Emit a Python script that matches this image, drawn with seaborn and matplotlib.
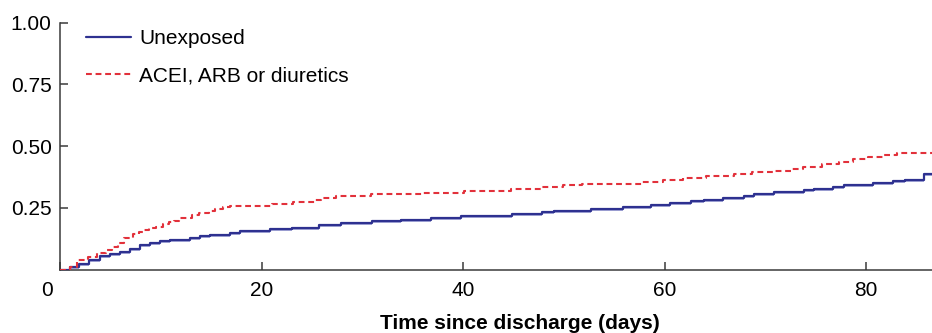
import numpy as np
import pandas as pd
import matplotlib
matplotlib.use("Agg")
import matplotlib.pyplot as plt
import matplotlib.transforms as mtransforms
import seaborn as sns

# ---- data ----
unexp_time = [0, 1.0, 1.9, 2.9, 4.0, 5.0, 6.0, 6.95, 7.9, 8.9, 9.9, 10.9, 12.9, 13.9,
              14.9, 16.9, 17.9, 20.8, 23.0, 25.7, 27.9, 31.0, 33.8, 36.8, 39.8, 44.9,
              47.8, 49.0, 52.7, 55.9, 58.7, 60.5, 62.6, 63.9, 65.8, 67.9, 68.9, 70.9,
              73.8, 74.8, 76.7, 77.8, 80.7, 82.7, 83.9, 85.8, 88.0]
unexp_val = [0, 0.010, 0.024, 0.040, 0.054, 0.065, 0.073, 0.084, 0.099, 0.107, 0.115,
             0.120, 0.128, 0.136, 0.142, 0.150, 0.158, 0.164, 0.170, 0.181, 0.188,
             0.196, 0.201, 0.209, 0.216, 0.224, 0.233, 0.238, 0.247, 0.255, 0.262,
             0.270, 0.277, 0.284, 0.289, 0.297, 0.305, 0.314, 0.322, 0.327, 0.335,
             0.342, 0.351, 0.358, 0.363, 0.386, 0.386]

exp_time = [0, 1.0, 1.7, 2.8, 3.7, 4.6, 5.2, 5.8, 6.4, 7.2, 7.8, 8.2, 8.8, 9.5, 10.2,
            10.8, 11.3, 11.8, 13.1, 13.8, 14.8, 15.4, 16.2, 16.9, 21.0, 23.1, 25.3,
            25.9, 27.4, 30.9, 36.0, 40.1, 44.8, 47.7, 49.9, 51.8, 57.8, 59.9, 61.8,
            64.1, 66.9, 68.7, 71.0, 72.7, 73.7, 75.6, 77.3, 78.7, 80.2, 81.7, 83.1, 88.0]
exp_val = [0, 0.010, 0.039, 0.053, 0.066, 0.080, 0.091, 0.107, 0.127, 0.143, 0.154,
           0.161, 0.168, 0.172, 0.185, 0.192, 0.199, 0.211, 0.222, 0.228, 0.238,
           0.245, 0.253, 0.259, 0.267, 0.273, 0.281, 0.289, 0.297, 0.305, 0.312,
           0.320, 0.327, 0.336, 0.343, 0.348, 0.355, 0.362, 0.370, 0.380, 0.388,
           0.395, 0.401, 0.408, 0.415, 0.427, 0.438, 0.447, 0.458, 0.466, 0.473, 0.473]

series_labels = ["Unexposed", "ACEI, ARB or diuretics"]
x_ticks = [0, 20, 40, 60, 80]
y_ticks = [0.25, 0.50, 0.75, 1.00]
y_ticklabels = ["0.25", "0.50", "0.75", "1.00"]
x_label = "Time since discharge (days)"

# ---- style ----
sns.set_theme(style="white")
plt.rcParams["font.family"] = ["Liberation Sans", "DejaVu Sans"]
plt.rcParams["text.color"] = "black"

BLUE = "#2e3190"
BLUE_LIGHT = "#a7aad8"
RED = "#e2313b"
SPINE = "#3a3a3a"
FS = 15

fig = plt.figure(figsize=(9.32, 3.33), dpi=100)
ax = fig.add_axes([60 / 932, 1 - 269.7 / 333, 1 - 60 / 932, (269.7 - 22.7) / 333])

df_u = pd.DataFrame({"t": unexp_time, "v": unexp_val})
df_e = pd.DataFrame({"t": exp_time, "v": exp_val})

# light shadow under the unexposed curve
ax.fill_between(df_u["t"], df_u["v"] - 0.008, df_u["v"], step="post",
                color=BLUE_LIGHT, lw=0, zorder=1)

sns.lineplot(data=df_u, x="t", y="v", ax=ax, drawstyle="steps-post", color=BLUE,
             lw=1.6, label=series_labels[0], zorder=3, estimator=None)
sns.lineplot(data=df_e, x="t", y="v", ax=ax, drawstyle="steps-post", color=RED,
             lw=1.5, linestyle=(0, (2.8, 1.8)), label=series_labels[1], zorder=4,
             estimator=None)

ax.set_xlim(0, 86.55)
ax.set_ylim(0, 1.0)
ax.set_xticks(x_ticks)
ax.set_xticklabels([str(v) for v in x_ticks])
ax.set_yticks(y_ticks)
ax.set_yticklabels(y_ticklabels)

for s in ["top", "right"]:
    ax.spines[s].set_visible(False)
for s in ["left", "bottom"]:
    ax.spines[s].set_color(SPINE)
    ax.spines[s].set_linewidth(1.1)

ax.tick_params(axis="x", bottom=True, direction="in", length=6, width=1.1, color=SPINE,
               pad=8, labelsize=FS, labelcolor="black")
ax.tick_params(axis="y", left=True, direction="in", length=6, width=1.1, color=SPINE,
               pad=6, labelsize=FS, labelcolor="black")

ax.set_xlabel(x_label, fontsize=FS, fontweight="bold", color="black")
ax.xaxis.set_label_coords((520 - 60) / 872, -0.178)
ax.set_ylabel("")

# shift the "0" tick label left like the reference
lbl0 = ax.get_xticklabels()[0]
lbl0.set_transform(lbl0.get_transform() +
                   mtransforms.ScaledTranslation(-13 / 100, 0, fig.dpi_scale_trans))

leg = ax.legend(loc="upper left", bbox_to_anchor=(0.03, 0.974), frameon=False,
                fontsize=FS, handlelength=2.15, handletextpad=0.4,
                labelspacing=0.86, borderaxespad=0, borderpad=0)
for t in leg.get_texts():
    t.set_color("black")

fig.savefig("out.png", dpi=100)
